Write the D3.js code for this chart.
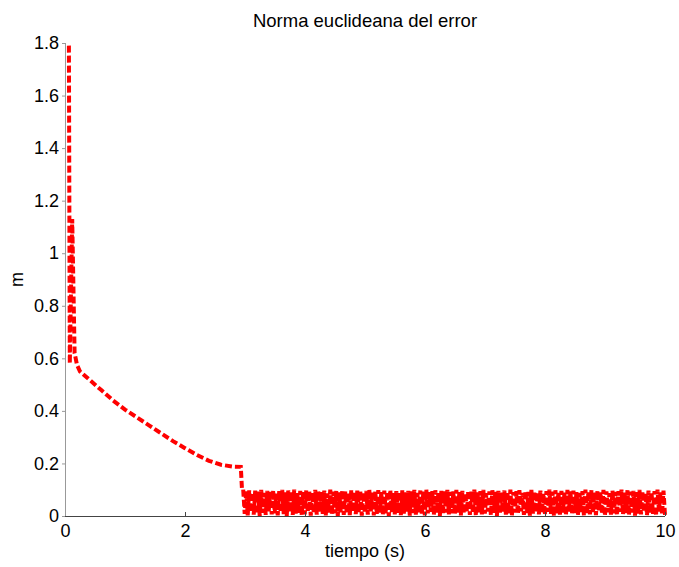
<!DOCTYPE html>
<html>
<head>
<meta charset="utf-8">
<script src="https://cdn.jsdelivr.net/npm/d3@7"></script>
<style>
  body { margin: 0; background: #fff; }
  svg text { font-family: "Liberation Sans", Arial, sans-serif; fill: #000; }
</style>
</head>
<body>
<svg id="chart" width="679" height="567"></svg>
<script>
// error norm samples: first transient + slow decay
var curveTime  = [0.065, 0.08, 0.12, 0.16, 0.20, 0.25, 0.40, 0.60, 0.80, 1.00, 1.20, 1.40, 1.60, 1.80, 2.00, 2.20, 2.40, 2.60, 2.80, 2.93, 2.95];
var curveValue = [1.79, 0.58, 1.13, 0.62, 0.575, 0.55, 0.52, 0.48, 0.44, 0.405, 0.375, 0.345, 0.315, 0.285, 0.258, 0.232, 0.21, 0.195, 0.188, 0.187, 0.10];

// chattering after t = 2.97 s, sampled evenly up to t = 10 s
var chatterStart = 2.97, chatterEnd = 10;
var chatterValue = [
  0.100,0.008,0.095,0.002,0.098,0.015,0.090,0.005,0.097,0.008,
  0.093,0.000,0.099,0.012,0.088,0.004,0.096,0.018,0.092,0.006,
  0.098,0.010,0.085,0.002,0.095,0.014,0.099,0.007,0.090,0.000,
  0.097,0.016,0.093,0.004,0.100,0.009,0.087,0.012,0.096,0.003,
  0.091,0.006,0.098,0.015,0.094,0.001,0.089,0.011,0.099,0.005,
  0.095,0.017,0.092,0.008,0.097,0.002,0.086,0.013,0.100,0.006,
  0.093,0.010,0.096,0.000,0.090,0.014,0.098,0.004,0.094,0.009,
  0.088,0.003,0.099,0.016,0.092,0.007,0.097,0.012,0.095,0.001,
  0.090,0.011,0.096,0.005,0.100,0.018,0.089,0.002,0.094,0.008,
  0.098,0.013,0.091,0.004,0.097,0.010,0.093,0.000,0.099,0.015,
  0.087,0.006,0.095,0.012,0.092,0.003,0.098,0.009,0.090,0.017,
  0.096,0.001,0.094,0.011,0.099,0.005,0.088,0.014,0.097,0.007,
  0.093,0.002,0.100,0.010,0.091,0.016,0.095,0.004,0.098,0.012,
  0.089,0.000,0.096,0.008,0.094,0.013,0.099,0.006,0.092,0.010,
  0.094,0.007,0.099,0.013,0.091,0.002,0.096,0.010,0.088,0.016,
  0.097,0.004,0.093,0.011,0.100,0.001,0.090,0.014,0.095,0.006,
  0.099,0.009,0.087,0.017,0.094,0.003,0.098,0.012,0.092,0.000,
  0.096,0.008,0.089,0.015,0.097,0.005,0.093,0.010,0.100,0.002,
  0.091,0.013,0.095,0.007,0.098,0.018,0.088,0.004,0.096,0.011,
  0.092,0.001,0.099,0.009,0.094,0.014,0.090,0.006,0.097,0.012,
  0.086,0.003,0.095,0.016,0.100,0.008,0.093,0.000,0.098,0.010,
  0.091,0.005,0.096,0.013,0.089,0.002,0.099,0.017,0.094,0.007,
  0.097,0.011,0.092,0.004,0.088,0.015,0.095,0.001,0.100,0.009,
  0.093,0.006,0.098,0.012,0.090,0.003,0.096,0.018,0.091,0.008,
  0.099,0.000,0.094,0.014,0.087,0.005,0.097,0.010,0.092,0.002,
  0.095,0.016,0.100,0.007,0.089,0.011,0.098,0.004,0.093,0.013,
  0.096,0.001,0.091,0.009,0.099,0.006,0.094,0.015,0.088,0.003,
  0.097,0.012,0.092,0.008,0.095,0.000,0.100,0.017,0.090,0.005,
  0.097,0.003
];

var xTicks = [0, 2, 4, 6, 8, 10];
var yTicks = [0, 0.2, 0.4, 0.6, 0.8, 1, 1.2, 1.4, 1.6, 1.8];

var svg = d3.select("#chart"),
    margin = {top: 43, right: 14, bottom: 51, left: 65},
    width = +svg.attr("width") - margin.left - margin.right,
    height = +svg.attr("height") - margin.top - margin.bottom,
    g = svg.append("g").attr("transform", "translate(" + margin.left + "," + margin.top + ")");

var x = d3.scaleLinear().domain([0, 10]).range([0, width]),
    y = d3.scaleLinear().domain([0, 1.8]).range([height, 0]);

// build the full series
var data = curveTime.map(function(t, i) { return [t, curveValue[i]]; });
var step = (chatterEnd - chatterStart) / (chatterValue.length - 1);
chatterValue.forEach(function(v, i) { data.push([chatterStart + i * step, v]); });

var line = d3.line()
    .x(function(d) { return x(d[0]); })
    .y(function(d) { return y(d[1]); });

g.append("path")
    .datum(data)
    .attr("fill", "none")
    .attr("stroke", "#ff0000")
    .attr("stroke-width", 4)
    .attr("stroke-dasharray", "7,3")
    .attr("d", line);

// axes
var xAxis = g.append("g")
    .attr("transform", "translate(0," + height + ")")
    .call(d3.axisBottom(x).tickValues(xTicks).tickSize(-4).tickPadding(8).tickFormat(d3.format("")));
var yAxis = g.append("g")
    .call(d3.axisLeft(y).tickValues(yTicks).tickSize(3).tickPadding(3).tickFormat(d3.format("")));

xAxis.select(".domain").attr("stroke", "#444").attr("d", "M0,0.5H" + width);
yAxis.select(".domain").attr("stroke", "#999").attr("d", "M0.5," + height + "V0");
xAxis.selectAll(".tick line").attr("stroke", "#444");
yAxis.selectAll(".tick line").attr("stroke", "#999");
svg.selectAll(".tick text").style("font-size", "18px").style("font-family", "'Liberation Sans', Arial, sans-serif");

svg.append("text")
    .attr("x", margin.left + width / 2)
    .attr("y", 27)
    .attr("text-anchor", "middle")
    .style("font-size", "18.5px")
    .text("Norma euclideana del error");

svg.append("text")
    .attr("x", margin.left + width / 2)
    .attr("y", 557)
    .attr("text-anchor", "middle")
    .style("font-size", "18px")
    .text("tiempo (s)");

svg.append("text")
    .attr("transform", "translate(23," + (margin.top + height / 2) + ") rotate(-90)")
    .attr("text-anchor", "middle")
    .style("font-size", "18px")
    .text("m");
</script>
</body>
</html>
